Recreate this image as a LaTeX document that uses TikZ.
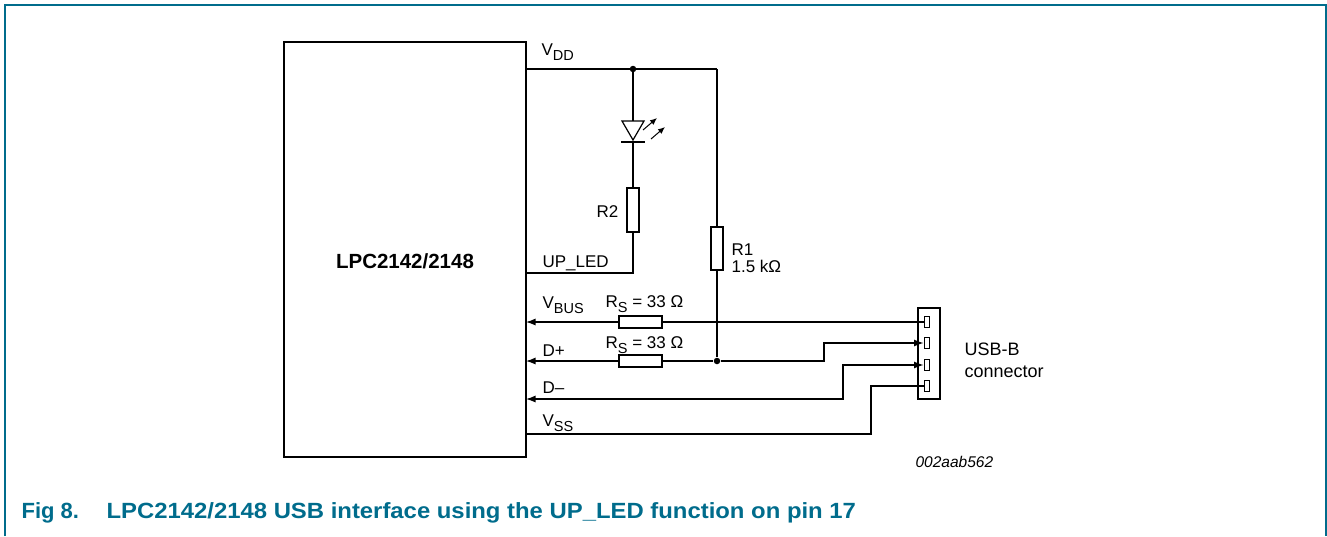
\documentclass[tikz,border=0pt]{standalone}
\usepackage{fontspec}
\setmainfont{Liberation Sans}
\usetikzlibrary{arrows.meta}
\definecolor{nxpteal}{RGB}{0,108,140}
\newcommand{\lowsub}[1]{\raisebox{-0.3em}{\fontsize{14.5}{14.5}\selectfont #1}}

\begin{document}
\begin{tikzpicture}[x=1pt, y=-1pt, >={Latex[length=9.5pt,width=7pt]}, line width=1.2pt,
    lbl/.style={inner sep=0pt, font=\fontsize{17}{19}\selectfont},
    res/.style={draw, fill=white, inner sep=0pt, line width=1.1pt},
    vres/.style={res, minimum width=12pt, minimum height=44pt},
    hres/.style={res, minimum width=43pt, minimum height=12pt},
    pin/.style={draw, inner sep=0pt, minimum width=5pt, minimum height=11pt, line width=1pt},
    dot/.style={circle, fill, inner sep=0pt, minimum size=6.5pt}]
    \useasboundingbox (0,0) rectangle (1327,536);
    \draw[nxpteal, line width=1.5pt] (5,536) -- (5,5) -- (1326,5) -- (1326,536);

    % chip and its pins
    \node[draw, line width=2pt, minimum width=242pt, minimum height=415pt, inner sep=0pt] (chip) at (405,249.5) {};
    \node[lbl, anchor=base, font=\fontsize{20.5}{22}\selectfont\bfseries] (chiplbl) at (405,268) {LPC2142/2148};
    \coordinate (vddpin) at (526,69);
    \coordinate (upledpin) at (526,273);
    \coordinate (vbuspin) at (526,322);
    \coordinate (dppin) at (526,361);
    \coordinate (dmpin) at (526,399);
    \coordinate (vsspin) at (526,434);

    % VDD rail
    \coordinate (vddj) at (633,69);
    \coordinate (vddr) at (717,69);
    \node[dot] (vdddot) at (vddj) {};
    \draw (vddpin) -- (vddj) -- (vddr);

    % LED
    \coordinate (ledtop) at (633,121);
    \coordinate (ledbar) at (633,142);
    \draw (vddj) -- (ledtop);
    \draw (622,121) -- (644,121) -- (633,140) -- cycle;
    \draw[line width=2pt] (621,142) -- (645,142);
    \draw[->, line width=1pt, >={Latex[length=7pt,width=6pt]}] (643,130) -- (657,118);
    \draw[->, line width=1pt, >={Latex[length=7pt,width=6pt]}] (651,139) -- (665,127);

    % R2 to UP_LED
    \node[vres] (r2) at (633,210) {};
    \coordinate (upledk) at (633,273);
    \draw (ledbar) -- (r2);
    \draw (r2) -- (upledk) -- (upledpin);
    \node[lbl, anchor=base east] (r2lbl) at (619,217) {R2};

    % R1 pull-up on D+
    \node[vres, minimum height=43pt] (r1) at (717,248.5) {};
    \node[dot] (dpdot) at (717,361) {};
    \draw (vddr) -- (r1) -- (dpdot);
    \node[lbl, anchor=base west] (r1lbl) at (731,255) {R1};
    \node[lbl, anchor=base west] (r1val) at (731,272) {1.5 kΩ};

    % USB-B connector
    \node[draw, line width=2.5pt, fill=white, minimum width=22pt, minimum height=91pt, inner sep=0pt] (usb) at (929,353.5) {};
    \node[pin] (p1) at (926.5,322) {};
    \node[pin] (p2) at (926.5,343) {};
    \node[pin] (p3) at (926.5,365) {};
    \node[pin] (p4) at (926.5,386) {};
    \node[lbl, anchor=base west, font=\fontsize{18}{20}\selectfont] (usblbl) at (964,355) {USB-B};
    \node[lbl, anchor=base west, font=\fontsize{18}{20}\selectfont] (usblbl2) at (964,377) {connector};

    % VBUS
    \node[hres] (rs1) at (640.5,322) {};
    \draw (p1) -- (rs1);
    \draw[->] (rs1) -- (vbuspin);

    % D+
    \node[hres] (rs2) at (640.5,361) {};
    \coordinate (dpbend) at (824,361);
    \draw[->] (dpdot) -- (dpbend) |- (p2);
    \draw (rs2) -- (dpdot);
    \draw[->] (rs2) -- (dppin);

    % D- and VSS
    \coordinate (dmbend) at (843,399);
    \draw[<->] (dmpin) -- (dmbend) |- (p3);
    \coordinate (vssbend) at (871,434);
    \draw (vsspin) -- (vssbend) |- (p4);

    % pin labels
    \node[lbl, anchor=base west] (vddlbl) at (541,55) {V\lowsub{DD}};
    \node[lbl, anchor=base west] (upledlbl) at (542,267) {UP\_LED};
    \node[lbl, anchor=base west] (vbuslbl) at (542,308) {V\lowsub{BUS}};
    \node[lbl, anchor=base west] (rs1lbl) at (605,307) {R\lowsub{S} = 33 Ω};
    \node[lbl, anchor=base west] (rs2lbl) at (605,348) {R\lowsub{S} = 33 Ω};
    \node[lbl, anchor=base west] (dplbl) at (542,356) {D+};
    \node[lbl, anchor=base west] (dmlbl) at (542,393) {D–};
    \node[lbl, anchor=base west] (vsslbl) at (542,426) {V\lowsub{SS}};

    % figure code and caption
    \node[lbl, anchor=base west, font=\fontsize{15.5}{17}\selectfont\itshape] (figcode) at (915,467) {002aab562};
    \node[anchor=base west, inner sep=0pt, text=nxpteal, font=\fontsize{22}{24}\selectfont\bfseries] (capnum) at (21,518) {Fig 8.};
    \node[anchor=base west, inner sep=0pt, text=nxpteal, font=\fontsize{22}{24}\selectfont\bfseries] (captext) at (106,518) {\scalebox{1.085}[1]{LPC2142/2148 USB interface using the UP\_LED function on pin 17}};
\end{tikzpicture}
\end{document}
